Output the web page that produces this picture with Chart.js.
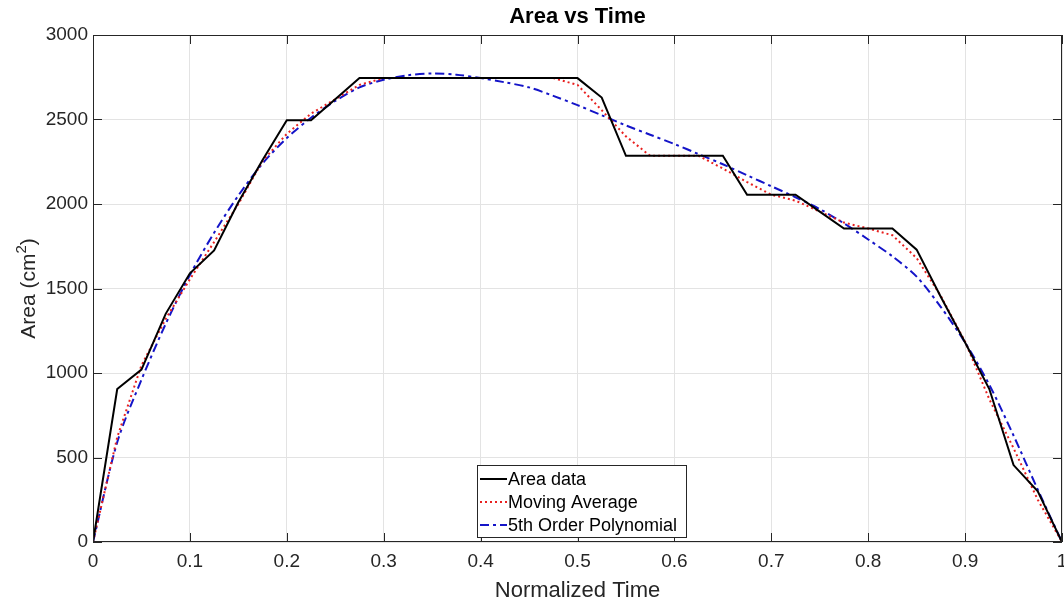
<!DOCTYPE html>
<html><head><meta charset="utf-8">
<script src="https://cdn.jsdelivr.net/npm/chart.js@4.4.1/dist/chart.umd.min.js"></script>
<style>html,body{margin:0;padding:0;background:#fff}#wrap{width:1064px;height:605px}</style>
</head><body><div id="wrap"><canvas id="c" width="1064" height="605"></canvas></div>
<script>
const timeValues = [0,0.025,0.05,0.075,0.1,0.125,0.15,0.175,0.2,0.225,0.25,0.275,0.3,0.325,0.35,0.375,0.4,0.425,0.45,0.475,0.5,0.525,0.55,0.575,0.6,0.625,0.65,0.675,0.7,0.725,0.75,0.775,0.8,0.825,0.85,0.875,0.9,0.925,0.95,0.975,1];
const areaData = [0,905,1020,1350,1590,1725,2010,2260,2495,2495,2620,2745,2745,2745,2745,2745,2745,2745,2745,2745,2745,2630,2285,2285,2285,2285,2285,2055,2055,2055,1955,1855,1855,1855,1730,1450,1180,905,455,300,0];
const movingAvg = [0,620,1045,1320,1555,1775,2000,2255,2415,2535,2620,2705,2745,2745,2745,2745,2745,2745,2745,2745,2705,2555,2400,2285,2285,2285,2210,2130,2055,2020,1955,1890,1855,1815,1680,1455,1185,845,555,250,0];
const polyFit = [0,590,960,1290,1580,1830,2050,2240,2390,2510,2610,2690,2735,2762,2772,2765,2745,2720,2690,2640,2585,2525,2465,2410,2355,2295,2235,2170,2105,2040,1970,1885,1790,1690,1570,1390,1180,930,630,310,0];
const seriesNames = ['Area data','Moving Average','5th Order Polynomial'];
const chartTitle = 'Area vs Time';
const xTicks = [0,0.1,0.2,0.3,0.4,0.5,0.6,0.7,0.8,0.9,1];
const yTicks = [0,500,1000,1500,2000,2500,3000];

const pts = arr => arr.map((v,i)=>({x:timeValues[i], y:v}));
const FONT = "'Liberation Sans', Arial, Helvetica, sans-serif";
const TXT = '#262626';

const boxPlugin = {
  id:'boxPlugin',
  afterDraw(chart){
    const {ctx, chartArea:a, scales} = chart;
    ctx.save();
    ctx.strokeStyle = '#262626';
    ctx.lineWidth = 1;
    ctx.beginPath();
    xTicks.forEach(t=>{
      const px = Math.round(scales.x.getPixelForValue(t))+0.5;
      ctx.moveTo(px,a.bottom); ctx.lineTo(px,a.bottom-9);
      ctx.moveTo(px,a.top); ctx.lineTo(px,a.top+9);
    });
    yTicks.forEach(t=>{
      const py = Math.round(scales.y.getPixelForValue(t))+0.5;
      ctx.moveTo(a.left,py); ctx.lineTo(a.left+9,py);
      ctx.moveTo(a.right,py); ctx.lineTo(a.right-9,py);
    });
    ctx.stroke();
    ctx.strokeRect(Math.round(a.left)+0.5, Math.round(a.top)+0.5, Math.round(a.right-a.left)-1, Math.round(a.bottom-a.top)-1);
    // title centred over plot area
    ctx.fillStyle = '#000';
    ctx.font = "bold 22px " + FONT;
    ctx.textAlign = 'center';
    ctx.textBaseline = 'middle';
    ctx.fillText(chartTitle, (a.left+a.right)/2, 17);
    ctx.textAlign = 'left';
    // y axis title with superscript
    ctx.save();
    ctx.translate(27, (a.top+a.bottom)/2);
    ctx.rotate(-Math.PI/2);
    ctx.fillStyle = TXT;
    ctx.textBaseline = 'alphabetic';
    const p1 = 'Area (cm', p3 = ')';
    ctx.font = "21px " + FONT; const w1 = ctx.measureText(p1).width, w3 = ctx.measureText(p3).width;
    ctx.font = "15px " + FONT; const w2 = ctx.measureText('2').width;
    const tot = w1+w2+w3; let x0 = -tot/2; const base = 8;
    ctx.font = "21px " + FONT; ctx.fillText(p1, x0, base);
    ctx.font = "15px " + FONT; ctx.fillText('2', x0+w1, base-9);
    ctx.font = "21px " + FONT; ctx.fillText(p3, x0+w1+w2, base);
    ctx.restore();
    // legend
    const lx = 477, ly = 465, lw = 209, lh = 72;
    ctx.fillStyle = '#fff';
    ctx.fillRect(lx,ly,lw,lh);
    ctx.strokeStyle = '#262626';
    ctx.lineWidth = 1;
    ctx.strokeRect(lx+0.5,ly+0.5,lw,lh);
    const styles = chart.data.datasets;
    ctx.font = "18px " + FONT;
    ctx.textBaseline = 'middle';
    styles.forEach((ds,i)=>{
      const y = ly + 14 + i*23;
      ctx.beginPath();
      ctx.strokeStyle = ds.borderColor;
      ctx.lineWidth = ds.borderWidth;
      ctx.setLineDash(ds.borderDash || []);
      ctx.moveTo(lx+3,y); ctx.lineTo(lx+30,y);
      ctx.stroke();
      ctx.setLineDash([]);
      ctx.fillStyle = '#000';
      ctx.fillText(ds.label, lx+31, y+1);
    });
    ctx.restore();
  }
};

new Chart(document.getElementById('c'), {
  type:'line',
  data:{ datasets:[
    {label:seriesNames[0], data:pts(areaData), borderColor:'#000000', borderWidth:2, pointRadius:0, tension:0},
    {label:seriesNames[1], data:pts(movingAvg), borderColor:'#e8201f', borderWidth:2, borderDash:[2,3], pointRadius:0, tension:0},
    {label:seriesNames[2], data:pts(polyFit), borderColor:'#1414c8', borderWidth:2, borderDash:[9,4,3,4], pointRadius:0, tension:0.3}
  ]},
  options:{
    responsive:false, animation:false,
    layout:{padding:{left:0,right:2,top:35,bottom:0}},
    plugins:{
      legend:{display:false},
      tooltip:{enabled:false},
      title:{display:false}
    },
    scales:{
      x:{type:'linear', min:0, max:1,
        afterBuildTicks: s => { s.ticks = xTicks.map(v=>({value:v})); },
        afterFit: s => { s.height = 63; s.paddingRight = 0; s.paddingLeft = 0; },
        ticks:{color:TXT, font:{family:FONT, size:19}, padding:8, maxRotation:0, callback:v=>String(v)},
        grid:{color:'#e3e3e3', drawTicks:false, lineWidth:1},
        border:{display:false},
        title:{display:true, text:'Normalized Time', color:TXT, font:{family:FONT, size:22}, padding:{top:0,bottom:1}}
      },
      y:{min:0, max:3000,
        afterBuildTicks: s => { s.ticks = yTicks.map(v=>({value:v})); },
        afterFit: s => { s.width = 93; s.paddingTop = 0; s.paddingBottom = 0; },
        ticks:{color:TXT, font:{family:FONT, size:19}, padding:5, callback:v=>String(v)},
        grid:{color:'#e3e3e3', drawTicks:false, lineWidth:1},
        border:{display:false},
        title:{display:false}
      }
    }
  },
  plugins:[boxPlugin]
});
</script></body></html>
